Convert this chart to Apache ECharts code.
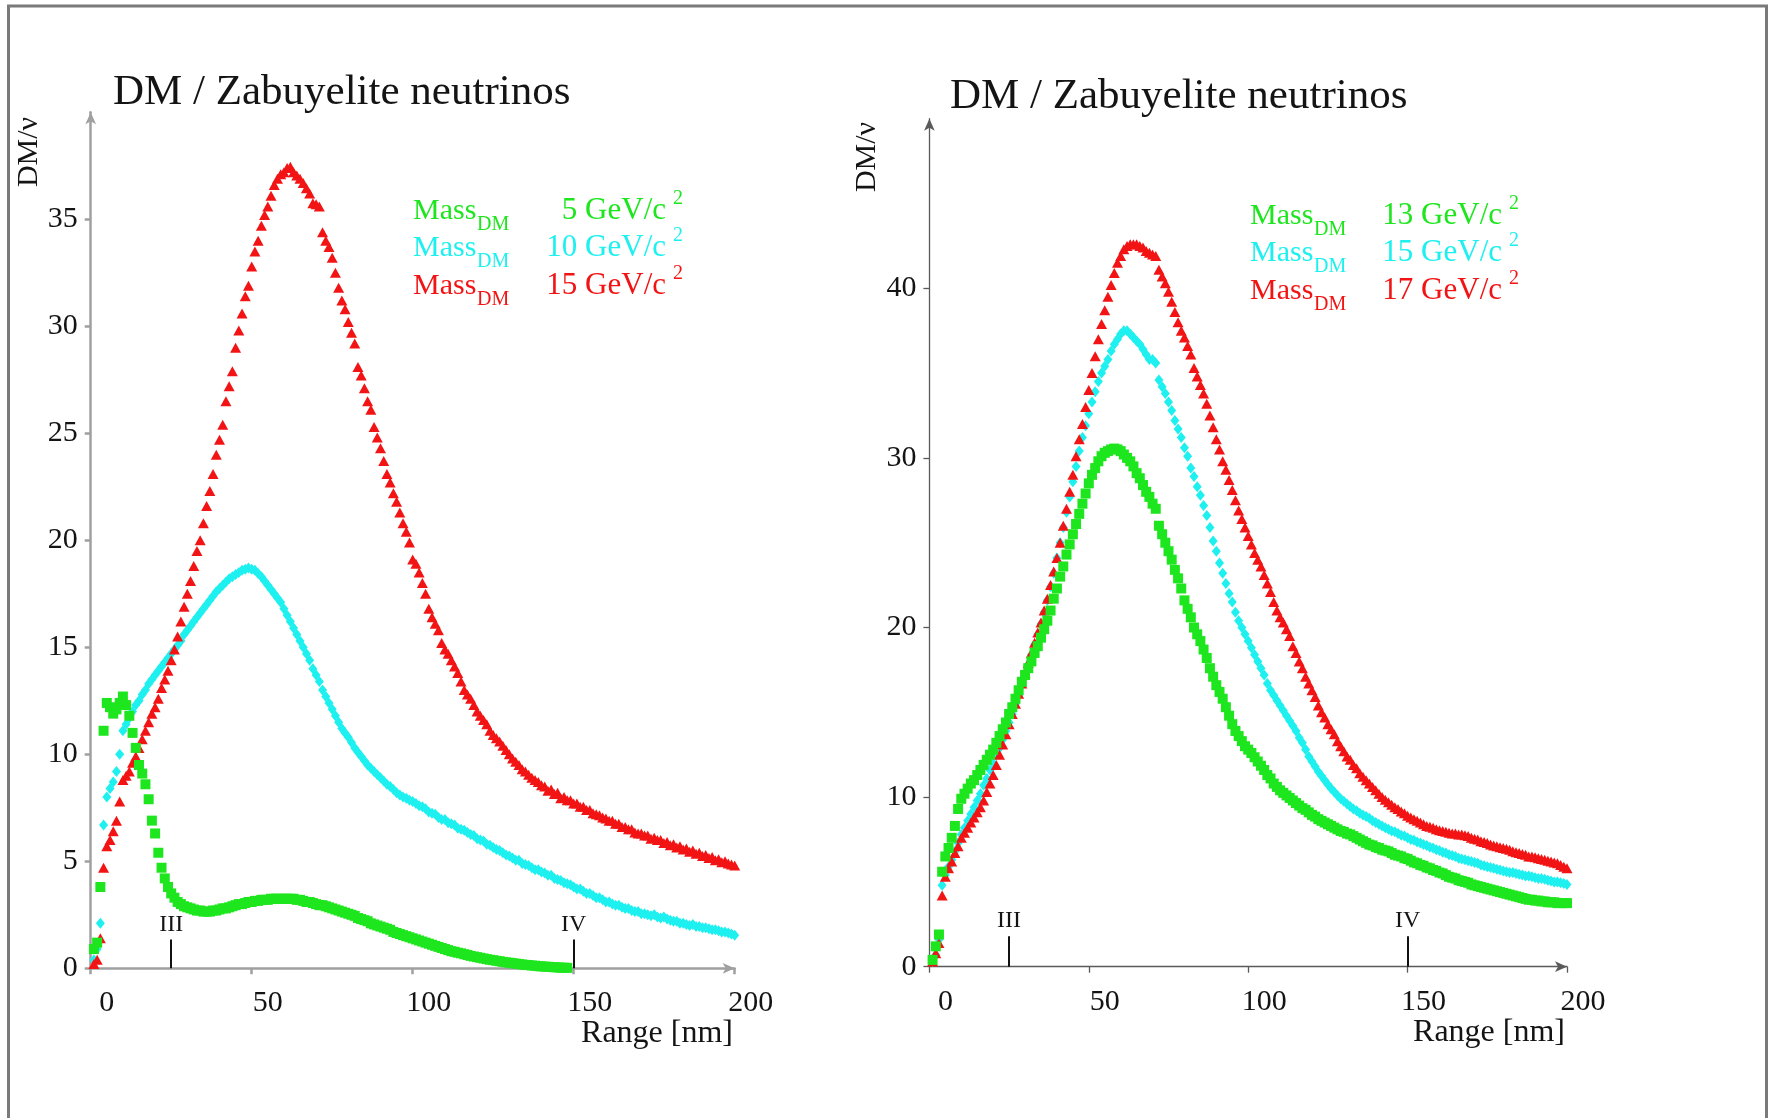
<!DOCTYPE html>
<html><head><meta charset="utf-8">
<script src="https://cdn.jsdelivr.net/npm/echarts@6/dist/echarts.min.js"></script>
<style>html,body{margin:0;padding:0;background:#fff}#c{width:1773px;height:1118px}</style>
</head><body><div id="c"></div>
<script>
// ---------- DATA ----------
const rangeNm = [
1,2,3,4,5,6,7,8,9,10,11,12,13,14,15,16,17,18,19,20,
21,22,23,24,25,26,27,28,29,30,31,32,33,34,35,36,37,38,39,40,
41,42,43,44,45,46,47,48,49,50,51,52,53,54,55,56,57,58,59,60,
61,62,63,64,65,66,67,68,69,70,71,72,73,74,75,76,77,78,79,80,
81,82,83,84,85,86,87,88,89,90,91,92,93,94,95,96,97,98,99,100,
101,102,103,104,105,106,107,108,109,110,111,112,113,114,115,116,117,118,119,120,
121,122,123,124,125,126,127,128,129,130,131,132,133,134,135,136,137,138,139,140,
141,142,143,144,145,146,147,148,149,150,151,152,153,154,155,156,157,158,159,160,
161,162,163,164,165,166,167,168,169,170,171,172,173,174,175,176,177,178,179,180,
181,182,183,184,185,186,187,188,189,190,191,192,193,194,195,196,197,198,199,200];

// Left panel: DM mass 5, 10, 15 GeV/c^2
const leftGreen5 = [
0.9,1.2,3.8,11.1,12.4,12.2,11.9,12.1,12.4,12.7,
12.3,11.8,11.0,10.3,9.5,9.1,8.6,7.9,6.9,6.3,
5.4,4.7,4.2,3.8,3.5,3.3,3.1,3.0,2.9,2.85,
2.8,2.75,2.7,2.7,2.65,2.65,2.65,2.7,2.7,2.75,
2.8,2.8,2.85,2.9,2.95,3.0,3.0,3.05,3.1,3.1,
3.15,3.15,3.2,3.2,3.2,3.25,3.25,3.25,3.25,3.25,
3.25,3.25,3.25,3.2,3.2,3.15,3.1,3.1,3.05,3.0,
2.95,2.95,2.9,2.85,2.8,2.75,2.7,2.65,2.6,2.55,
2.5,2.45,2.35,2.3,2.25,2.2,2.1,2.05,2.0,1.95,
1.9,1.85,1.8,1.7,1.65,1.6,1.55,1.5,1.45,1.4,
1.35,1.3,1.25,1.2,1.15,1.1,1.05,1.0,0.95,0.9,
0.85,0.8,0.77,0.73,0.7,0.66,0.62,0.58,0.55,0.52,
0.49,0.46,0.43,0.4,0.38,0.35,0.33,0.3,0.28,0.26,
0.24,0.22,0.2,0.18,0.16,0.15,0.13,0.12,0.1,0.09,
0.08,0.07,0.06,0.05,0.04,0.03,0.03,0.02];
const leftCyan10 = [
0.4,0.9,2.1,6.7,8.0,8.4,8.7,9.2,10.0,11.1,
11.4,11.7,12.0,12.3,12.5,12.8,13.0,13.3,13.5,13.7,
13.9,14.1,14.3,14.5,14.7,14.9,15.1,15.3,15.6,15.8,
16.0,16.2,16.4,16.6,16.8,17.0,17.2,17.4,17.6,17.75,
17.9,18.05,18.2,18.3,18.4,18.5,18.6,18.65,18.7,18.65,
18.6,18.45,18.3,18.1,17.9,17.7,17.5,17.3,17.1,16.8,
16.5,16.2,15.9,15.6,15.3,15.0,14.7,14.4,14.0,13.7,
13.4,13.0,12.7,12.4,12.1,11.8,11.5,11.2,11.0,10.8,
10.55,10.3,10.1,9.9,9.7,9.5,9.35,9.2,9.05,8.9,
8.75,8.6,8.5,8.35,8.2,8.1,8.0,7.95,7.85,7.8,
7.7,7.6,7.55,7.45,7.3,7.25,7.2,7.05,6.95,6.95,
6.8,6.75,6.7,6.55,6.5,6.45,6.35,6.25,6.2,6.05,
6.0,5.95,5.8,5.75,5.65,5.55,5.5,5.4,5.3,5.25,
5.15,5.05,5.05,4.9,4.85,4.8,4.7,4.6,4.6,4.5,
4.45,4.35,4.35,4.2,4.15,4.1,4.0,3.95,3.9,3.8,
3.7,3.7,3.6,3.5,3.5,3.4,3.3,3.3,3.2,3.1,
3.1,3.0,2.95,2.95,2.85,2.8,2.8,2.7,2.65,2.65,
2.55,2.55,2.5,2.45,2.5,2.4,2.35,2.4,2.3,2.25,
2.2,2.2,2.1,2.1,2.05,2.0,2.05,1.95,1.95,1.9,
1.9,1.85,1.8,1.8,1.75,1.7,1.7,1.65,1.6,1.55];
const leftRed15 = [
0.2,0.4,1.4,4.7,5.7,6.0,6.4,6.9,7.8,8.8,
9.0,9.2,9.6,9.9,10.3,10.7,11.1,11.5,11.9,12.2,
12.6,13.1,13.5,13.9,14.4,14.9,15.5,16.2,16.9,17.5,
18.1,18.8,19.5,20.0,20.8,21.6,22.3,23.1,24.0,24.7,
25.4,26.5,27.2,27.9,29.0,29.8,30.6,31.4,31.9,32.8,
33.5,34.0,34.7,35.2,35.6,36.1,36.6,36.9,37.1,37.2,
37.4,37.45,37.2,37.05,36.9,36.7,36.45,36.2,35.75,35.7,
35.6,34.4,34.0,33.7,33.2,32.5,31.8,31.2,30.8,30.2,
29.7,29.2,28.1,27.7,27.1,26.5,26.1,25.3,24.8,24.3,
23.7,23.1,22.7,22.2,21.8,21.3,20.8,20.4,19.9,19.1,
18.9,18.5,18.0,17.5,16.8,16.4,16.1,15.8,15.2,14.9,
14.7,14.4,14.1,13.8,13.4,13.0,12.8,12.6,12.3,12.0,
11.8,11.6,11.4,11.1,10.9,10.75,10.6,10.4,10.2,10.0,
9.8,9.65,9.5,9.3,9.2,9.05,8.9,8.8,8.7,8.55,
8.5,8.3,8.35,8.15,8.2,7.95,8.0,7.85,7.85,7.7,
7.7,7.55,7.55,7.4,7.4,7.25,7.2,7.15,7.05,7.0,
6.9,6.9,6.75,6.75,6.6,6.6,6.5,6.5,6.35,6.3,
6.3,6.2,6.2,6.05,6.1,6.0,6.0,5.85,5.9,5.75,
5.8,5.65,5.7,5.55,5.6,5.45,5.5,5.35,5.4,5.25,
5.3,5.15,5.2,5.05,5.1,4.95,5.0,4.9,4.85,4.8];

// Right panel: DM mass 13, 15, 17 GeV/c^2
const rightGreen13 = [
0.4,1.2,1.9,5.6,6.5,7.0,7.6,8.3,9.3,9.9,
10.2,10.5,10.8,11.0,11.3,11.6,11.9,12.2,12.5,12.8,
13.2,13.6,14.0,14.4,14.9,15.3,15.8,16.3,16.8,17.2,
17.6,18.0,18.5,18.9,19.4,19.9,20.4,21.0,21.7,22.3,
23.0,23.6,24.3,24.9,25.5,26.1,26.7,27.3,27.9,28.5,
29.0,29.4,29.8,30.1,30.3,30.4,30.5,30.55,30.5,30.4,
30.2,30.0,29.8,29.5,29.1,28.8,28.4,28.0,27.7,27.3,
27.0,26.0,25.5,25.0,24.5,24.0,23.4,22.9,22.3,21.6,
21.1,20.6,20.0,19.6,19.2,18.7,18.2,17.6,17.1,16.6,
16.2,15.8,15.3,14.8,14.3,13.9,13.6,13.3,13.0,12.8,
12.6,12.35,12.1,11.85,11.6,11.3,11.1,10.8,10.6,10.4,
10.25,10.1,9.95,9.8,9.65,9.5,9.35,9.25,9.1,8.95,
8.85,8.7,8.6,8.5,8.4,8.3,8.2,8.1,8.0,7.95,
7.85,7.8,7.7,7.6,7.5,7.4,7.3,7.2,7.15,7.05,
7.0,6.9,6.85,6.8,6.7,6.6,6.55,6.5,6.4,6.35,
6.25,6.15,6.1,6.0,5.95,5.85,5.8,5.7,5.65,5.55,
5.5,5.4,5.3,5.25,5.2,5.1,5.05,5.0,4.95,4.85,
4.8,4.75,4.7,4.65,4.6,4.55,4.5,4.45,4.4,4.35,
4.3,4.25,4.2,4.15,4.1,4.05,4.0,3.95,3.95,3.9,
3.9,3.85,3.85,3.8,3.8,3.8,3.75,3.75,3.75,3.75];
const rightCyan15 = [
0.3,0.7,1.6,4.8,5.4,5.9,6.3,6.8,7.3,7.8,
8.2,8.6,9.0,9.4,9.8,10.2,10.7,11.1,11.6,12.0,
12.5,12.9,13.4,13.9,14.4,14.9,15.5,16.0,16.6,17.2,
17.8,18.4,19.0,19.6,20.2,20.9,21.6,22.4,23.2,24.1,
25.0,25.9,26.8,27.7,28.6,29.5,30.4,31.2,31.9,32.6,
33.3,33.9,34.5,35.0,35.4,35.8,36.3,36.7,37.0,37.3,
37.5,37.5,37.3,37.1,36.9,36.7,36.4,36.1,35.8,35.8,
35.6,34.6,34.2,33.8,33.3,32.8,32.2,31.7,31.2,30.6,
30.1,29.4,28.9,28.3,27.8,27.2,26.6,25.9,25.1,24.5,
23.8,23.2,22.6,22.0,21.5,20.9,20.4,20.0,19.6,19.2,
18.8,18.4,18.0,17.6,17.2,16.7,16.3,16.0,15.7,15.4,
15.1,14.8,14.5,14.2,13.9,13.5,13.2,12.8,12.4,12.1,
11.8,11.5,11.25,11.0,10.75,10.5,10.3,10.1,9.9,9.75,
9.6,9.45,9.3,9.2,9.05,8.95,8.85,8.75,8.6,8.5,
8.4,8.3,8.2,8.1,8.0,7.95,7.85,7.75,7.7,7.6,
7.5,7.45,7.35,7.3,7.2,7.15,7.05,7.0,6.9,6.85,
6.75,6.7,6.6,6.55,6.5,6.4,6.35,6.3,6.25,6.2,
6.15,6.1,6.0,5.95,5.9,5.85,5.8,5.75,5.7,5.65,
5.6,5.55,5.55,5.5,5.45,5.4,5.35,5.35,5.3,5.25,
5.2,5.2,5.15,5.1,5.05,5.0,5.0,4.95,4.9,4.85];
const rightRed17 = [
0.3,0.8,1.4,4.2,5.3,5.8,6.2,6.7,7.1,7.6,
7.9,8.2,8.5,8.8,9.1,9.4,9.8,10.3,10.8,11.3,
11.9,12.5,13.1,13.7,14.3,14.9,15.5,16.1,16.7,17.3,
17.9,18.5,19.1,19.7,20.3,21.0,21.7,22.5,23.3,24.1,
25.0,26.0,27.0,28.0,29.0,30.1,31.1,32.0,33.0,34.0,
35.0,36.0,37.0,37.9,38.7,39.5,40.2,40.9,41.5,41.9,
42.3,42.5,42.6,42.6,42.6,42.5,42.4,42.2,42.1,42.0,
41.9,41.1,40.7,40.3,39.8,39.2,38.6,38.0,37.5,37.1,
36.6,36.1,35.3,34.8,34.3,33.8,33.2,32.5,31.8,31.1,
30.5,29.8,29.3,28.7,28.1,27.5,26.9,26.4,25.9,25.4,
24.9,24.4,24.0,23.6,23.1,22.6,22.1,21.5,21.0,20.6,
20.3,19.9,19.5,18.9,18.5,18.0,17.6,17.1,16.7,16.3,
15.9,15.4,15.0,14.7,14.3,14.0,13.7,13.3,13.0,12.7,
12.4,12.2,11.9,11.7,11.4,11.2,11.0,10.8,10.6,10.4,
10.2,10.0,9.85,9.7,9.55,9.4,9.3,9.15,9.05,8.9,
8.8,8.7,8.6,8.5,8.4,8.3,8.25,8.2,8.1,8.05,
8.0,7.95,7.9,7.85,7.85,7.8,7.8,7.75,7.7,7.6,
7.55,7.5,7.4,7.35,7.3,7.2,7.15,7.1,7.05,7.0,
6.95,6.9,6.8,6.75,6.7,6.65,6.6,6.5,6.5,6.45,
6.4,6.35,6.3,6.25,6.2,6.15,6.1,6.0,5.9,5.8];

const xTicks = [0, 50, 100, 150, 200];
const leftYTicks = [0, 5, 10, 15, 20, 25, 30, 35];
const rightYTicks = [0, 10, 20, 30, 40];
const panelTitle = 'DM / Zabuyelite neutrinos';
const leftMassLabels = [' 5 GeV/c', '10 GeV/c', '15 GeV/c'];
const rightMassLabels = ['13 GeV/c', '15 GeV/c', '17 GeV/c'];
const rangeMarkers = [{name: 'III', x: 25}, {name: 'IV', x: 150}];
const leftMarkerTop = 1.35;
const rightMarkerTop = 1.8;

// ---------- CHART ----------
const FONT = '"Liberation Serif","Times New Roman",serif';
const GREEN = '#1ee61e', CYAN = '#1ef0f0', RED = '#f21414';
const TXT = '#141414';

function pairs(arr) {
  const out = [];
  for (let i = 0; i < arr.length; i++) if (arr[i] != null) out.push([rangeNm[i], arr[i]]);
  return out;
}
function axisX(idx, color, width) {
  return {
    gridIndex: idx, type: 'value', min: 0, max: 200, interval: 50,
    axisLine: {show: true, onZero: false, symbol: ['none', 'arrow'], symbolSize: [8, 12],
      lineStyle: {color: color, width: width}},
    axisTick: {show: true, length: 6, customValues: xTicks, lineStyle: {color: color, width: width}},
    axisLabel: {customValues: xTicks, fontFamily: FONT, fontSize: 30, color: TXT, margin: 20,
      padding: [0, 0, 0, 32]},
    splitLine: {show: false}
  };
}
function axisY(idx, max, interval, ticks, color, width) {
  return {
    gridIndex: idx, type: 'value', min: 0, max: max, interval: interval,
    axisLine: {show: true, onZero: false, symbol: ['none', 'arrow'], symbolSize: [8, 12],
      lineStyle: {color: color, width: width}},
    axisTick: {show: true, length: 6, customValues: ticks, lineStyle: {color: color, width: width}},
    axisLabel: {customValues: ticks, fontFamily: FONT, fontSize: 30, color: TXT, margin: 13},
    splitLine: {show: false}
  };
}
function sc(name, idx, arr, symbol, size, color, z) {
  return {name: name, type: 'scatter', xAxisIndex: idx, yAxisIndex: idx, data: pairs(arr),
    symbol: symbol, symbolSize: size, itemStyle: {color: color, opacity: 1}, z: z, silent: true};
}
function markerSeries(idx, top) {
  return {type: 'scatter', xAxisIndex: idx, yAxisIndex: idx, data: [], z: 10, silent: true,
    markLine: {silent: true, symbol: ['none', 'none'], animation: false,
      lineStyle: {color: '#111', width: 2, type: 'solid'},
      label: {show: true, position: 'end', formatter: '{b}', fontFamily: FONT, fontSize: 24,
        color: TXT, distance: 3},
      data: rangeMarkers.map(m => [{coord: [m.x, 0], name: m.name}, {coord: [m.x, top]}])}};
}
function legendRows(x0, xValRight, ys, labels) {
  const cols = [GREEN, CYAN, RED];
  const els = [];
  labels.forEach((lab, i) => {
    const y = ys[i], c = cols[i];
    els.push({type: 'text', x: x0, y: y, silent: true,
      style: {text: 'Mass', fill: c, font: '30px ' + FONT, align: 'left', verticalAlign: 'middle'}});
    els.push({type: 'text', x: x0 + 64, y: y + 14, silent: true,
      style: {text: 'DM', fill: c, font: '20px ' + FONT, align: 'left', verticalAlign: 'middle'}});
    els.push({type: 'text', x: xValRight, y: y, silent: true,
      style: {text: lab, fill: c, font: '31px ' + FONT, align: 'right', verticalAlign: 'middle'}});
    els.push({type: 'text', x: xValRight + 7, y: y - 12, silent: true,
      style: {text: '2', fill: c, font: '20px ' + FONT, align: 'left', verticalAlign: 'middle'}});
  });
  return els;
}
function txt(x, y, s, size, align, rot) {
  return {type: 'text', x: x, y: y, rotation: rot || 0, silent: true,
    style: {text: s, fill: TXT, font: size + 'px ' + FONT, align: align, verticalAlign: 'middle'}};
}

const chart = echarts.init(document.getElementById('c'), null, {renderer: 'canvas'});
const option = {
  backgroundColor: '#ffffff',
  animation: false,
  grid: [
    {left: 90.7, top: 112.3, width: 644, height: 856},
    {left: 929.4, top: 118.7, width: 637.6, height: 848}
  ],
  xAxis: [axisX(0, '#a0a0a0', 2.5), axisX(1, '#5a5a5a', 1.3)],
  yAxis: [axisY(0, 40, 5, leftYTicks, '#a0a0a0', 2.5), axisY(1, 50, 10, rightYTicks, '#5a5a5a', 1.3)],
  series: [
    sc('Mass DM 10 GeV/c2', 0, leftCyan10, 'diamond', [9, 11], CYAN, 2),
    sc('Mass DM 15 GeV/c2', 0, leftRed15, 'triangle', [11, 10], RED, 3),
    sc('Mass DM 5 GeV/c2', 0, leftGreen5, 'rect', 10, GREEN, 4),
    sc('Mass DM 15 GeV/c2 ', 1, rightCyan15, 'diamond', [9, 11], CYAN, 2),
    sc('Mass DM 17 GeV/c2', 1, rightRed17, 'triangle', [11, 10], RED, 3),
    sc('Mass DM 13 GeV/c2', 1, rightGreen13, 'rect', 10, GREEN, 4),
    markerSeries(0, leftMarkerTop),
    markerSeries(1, rightMarkerTop)
  ],
  graphic: [
    {type: 'rect', silent: true, shape: {x: 8.5, y: 6, width: 1758, height: 1200},
      style: {fill: 'none', stroke: '#7a7a7a', lineWidth: 3}},
    txt(113, 93, panelTitle, 43, 'left'),
    txt(950, 97, panelTitle, 43, 'left'),
    txt(29, 152, 'DM/ν', 30, 'center', Math.PI / 2),
    txt(867, 157, 'DM/ν', 30, 'center', Math.PI / 2),
    txt(733, 1034, 'Range [nm]', 32, 'right'),
    txt(1565, 1033, 'Range [nm]', 32, 'right')
  ].concat(legendRows(413, 666, [211, 248, 286], leftMassLabels))
   .concat(legendRows(1250, 1502, [216, 253, 291], rightMassLabels))
};
chart.setOption(option);
</script>
</body></html>
